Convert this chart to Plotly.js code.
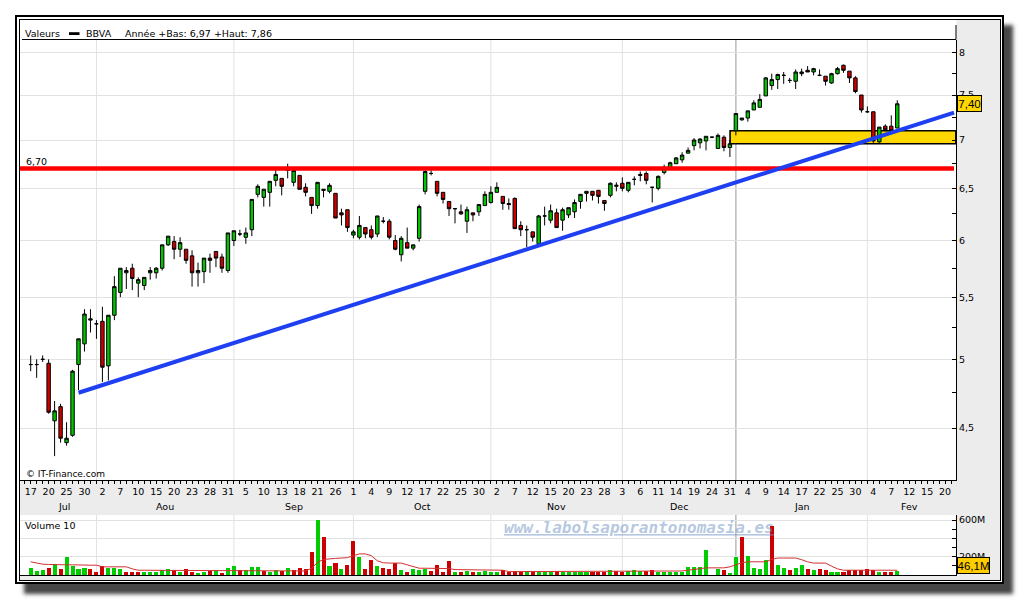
<!DOCTYPE html>
<html><head><meta charset="utf-8">
<script src="https://cdn.plot.ly/plotly-3.0.1.min.js"></script>
<style>
html,body{margin:0;padding:0;background:#fff;}
#wrap{position:relative;width:1020px;height:600px;overflow:hidden;background:#fff;}
#outer{position:absolute;left:15px;top:15px;width:989px;height:569px;box-sizing:border-box;border:2px solid #000;background:#fff;box-shadow:9px 10px 4px rgba(50,50,50,0.9);}
#inner{position:absolute;left:19px;top:19px;width:982px;height:562px;box-sizing:border-box;border:1px solid #000;background:#fff;}
#chart{position:absolute;left:0;top:0;width:1020px;height:600px;}
</style></head><body>
<div id="wrap"><div id="outer"></div><div id="inner"></div><div id="chart"></div></div>
<script>
// ---------- DATA ----------
const ticker = "BBVA";
const tradingDays = [
"2012-07-17","2012-07-18","2012-07-19","2012-07-20","2012-07-23","2012-07-24","2012-07-25","2012-07-26","2012-07-27","2012-07-30","2012-07-31",
"2012-08-01","2012-08-02","2012-08-03","2012-08-06","2012-08-07","2012-08-08","2012-08-09","2012-08-10","2012-08-13","2012-08-14","2012-08-15","2012-08-16","2012-08-17","2012-08-20","2012-08-21","2012-08-22","2012-08-23","2012-08-24","2012-08-27","2012-08-28","2012-08-29","2012-08-30","2012-08-31",
"2012-09-03","2012-09-04","2012-09-05","2012-09-06","2012-09-07","2012-09-10","2012-09-11","2012-09-12","2012-09-13","2012-09-14","2012-09-17","2012-09-18","2012-09-19","2012-09-20","2012-09-21","2012-09-24","2012-09-25","2012-09-26","2012-09-27","2012-09-28",
"2012-10-01","2012-10-02","2012-10-03","2012-10-04","2012-10-05","2012-10-08","2012-10-09","2012-10-10","2012-10-11","2012-10-12","2012-10-15","2012-10-16","2012-10-17","2012-10-18","2012-10-19","2012-10-22","2012-10-23","2012-10-24","2012-10-25","2012-10-26","2012-10-29","2012-10-30","2012-10-31",
"2012-11-01","2012-11-02","2012-11-05","2012-11-06","2012-11-07","2012-11-08","2012-11-09","2012-11-12","2012-11-13","2012-11-14","2012-11-15","2012-11-16","2012-11-19","2012-11-20","2012-11-21","2012-11-22","2012-11-23","2012-11-26","2012-11-27","2012-11-28","2012-11-29","2012-11-30",
"2012-12-03","2012-12-04","2012-12-05","2012-12-06","2012-12-07","2012-12-10","2012-12-11","2012-12-12","2012-12-13","2012-12-14","2012-12-17","2012-12-18","2012-12-19","2012-12-20","2012-12-21","2012-12-24","2012-12-27","2012-12-28","2012-12-31",
"2013-01-02","2013-01-03","2013-01-04","2013-01-07","2013-01-08","2013-01-09","2013-01-10","2013-01-11","2013-01-14","2013-01-15","2013-01-16","2013-01-17","2013-01-18","2013-01-21","2013-01-22","2013-01-23","2013-01-24","2013-01-25","2013-01-28","2013-01-29","2013-01-30","2013-01-31",
"2013-02-01","2013-02-04","2013-02-05","2013-02-06","2013-02-07","2013-02-08","2013-02-11","2013-02-12","2013-02-13","2013-02-14","2013-02-15","2013-02-18","2013-02-19","2013-02-20"
];
const monthNames = ["Jan","Fev","Mar","Avr","Mai","Jun","Jul","Aou","Sep","Oct","Nov","Dec"];

const open = [
4.96,4.96,5.00,4.97,4.55,4.65,4.40,4.45,4.96,5.12,
5.31,5.28,5.30,4.95,5.35,5.54,5.71,5.75,5.62,5.60,
5.71,5.71,5.75,5.96,5.99,5.92,5.92,5.86,5.71,5.72,
5.84,5.90,5.85,5.73,6.00,6.06,6.03,6.10,6.44,6.41,
6.46,6.58,6.60,6.69,6.56,6.63,6.51,6.41,6.33,6.49,
6.47,6.45,6.26,6.29,6.05,6.03,6.12,6.10,6.06,6.18,
6.18,6.00,5.87,5.98,5.93,6.02,6.47,6.65,6.57,6.46,
6.37,6.30,6.27,6.18,6.26,6.27,6.33,6.36,6.46,6.42,
6.35,6.40,6.14,6.10,6.08,5.97,6.23,6.19,6.26,6.19,
6.24,6.27,6.37,6.45,6.47,6.48,6.38,6.43,6.52,6.55,
6.48,6.59,6.64,6.65,6.51,6.50,6.66,6.71,6.75,6.79,
6.86,6.94,6.97,6.99,7.03,6.91,7.03,6.92,7.10,7.22,
7.24,7.33,7.36,7.49,7.61,7.68,7.73,7.67,7.66,7.75,
7.79,7.77,7.73,7.72,7.64,7.75,7.85,7.78,7.70,7.50,
7.31,7.31,6.98,7.15,7.15,7.13];
const high = [
5.03,5.00,5.03,5.00,4.69,4.67,4.54,4.92,5.16,5.40,
5.40,5.31,5.42,5.35,5.68,5.75,5.76,5.79,5.67,5.67,
5.76,5.76,5.96,6.04,6.04,6.03,5.92,5.91,5.80,5.84,
5.88,5.90,5.88,6.07,6.09,6.10,6.12,6.39,6.54,6.49,
6.57,6.69,6.60,6.75,6.68,6.63,6.55,6.41,6.56,6.49,
6.55,6.45,6.30,6.29,6.10,6.23,6.12,6.14,6.23,6.22,
6.20,6.05,6.04,6.12,5.96,6.34,6.68,6.70,6.57,6.46,
6.37,6.30,6.34,6.32,6.26,6.34,6.47,6.52,6.56,6.42,
6.40,6.41,6.18,6.14,6.08,6.24,6.32,6.34,6.30,6.31,
6.31,6.39,6.44,6.47,6.47,6.48,6.38,6.56,6.56,6.61,
6.56,6.62,6.67,6.67,6.51,6.63,6.74,6.77,6.82,6.87,
6.92,7.02,7.02,7.04,7.04,7.07,7.05,7.00,7.29,7.24,
7.32,7.44,7.51,7.71,7.75,7.75,7.77,7.70,7.80,7.81,
7.84,7.82,7.80,7.72,7.76,7.83,7.86,7.78,7.72,7.50,
7.37,7.31,7.14,7.17,7.27,7.44];
const low = [
4.91,4.86,4.98,4.60,4.31,4.40,4.38,4.44,4.77,5.06,
5.21,5.16,4.83,4.84,5.31,5.50,5.57,5.56,5.50,5.56,
5.65,5.66,5.73,5.95,5.83,5.85,5.79,5.59,5.59,5.62,
5.71,5.76,5.71,5.71,5.95,6.04,5.97,6.04,6.41,6.32,
6.32,6.52,6.43,6.60,6.52,6.49,6.42,6.25,6.30,6.41,
6.45,6.21,6.14,6.08,6.02,6.01,6.02,6.01,6.03,6.16,
6.01,5.91,5.81,5.93,5.91,5.99,6.44,6.63,6.42,6.35,
6.23,6.16,6.24,6.07,6.18,6.23,6.33,6.35,6.46,6.29,
6.29,6.11,6.04,5.94,5.99,5.97,6.14,6.16,6.12,6.09,
6.21,6.21,6.30,6.37,6.38,6.35,6.28,6.41,6.47,6.47,
6.46,6.53,6.57,6.54,6.36,6.48,6.64,6.70,6.75,6.76,
6.86,6.89,6.91,6.89,7.02,6.91,6.88,6.82,7.05,7.21,
7.20,7.33,7.36,7.49,7.56,7.57,7.63,7.64,7.57,7.72,
7.77,7.73,7.72,7.61,7.63,7.74,7.76,7.64,7.52,7.30,
7.30,6.97,6.97,7.11,7.10,7.13];
const close = [
4.96,4.96,5.00,4.61,4.62,4.43,4.43,4.91,5.16,5.36,
5.32,5.28,4.94,5.35,5.59,5.75,5.73,5.66,5.65,5.67,
5.73,5.75,5.96,6.04,5.92,5.98,5.82,5.71,5.73,5.84,
5.82,5.84,5.75,6.07,6.09,6.06,6.07,6.39,6.52,6.49,
6.57,6.64,6.52,6.68,6.68,6.49,6.46,6.33,6.56,6.48,
6.53,6.21,6.24,6.12,6.08,6.14,6.06,6.03,6.23,6.18,
6.03,5.92,6.02,5.93,5.96,6.32,6.67,6.65,6.45,6.39,
6.30,6.30,6.25,6.29,6.24,6.34,6.44,6.46,6.51,6.35,
6.34,6.11,6.10,6.10,6.03,6.23,6.23,6.28,6.12,6.29,
6.31,6.36,6.44,6.47,6.43,6.42,6.35,6.55,6.53,6.50,
6.56,6.59,6.63,6.58,6.51,6.62,6.71,6.76,6.81,6.84,
6.89,7.00,7.01,7.04,7.03,7.05,6.92,6.96,7.29,7.24,
7.32,7.41,7.45,7.70,7.68,7.74,7.73,7.67,7.77,7.77,
7.77,7.81,7.73,7.66,7.75,7.81,7.79,7.70,7.54,7.33,
7.31,6.99,7.14,7.11,7.10,7.40];
// volume, millions of shares
const volume = [
78,48,55,78,122,67,200,96,70,81,
67,33,100,81,81,70,33,33,33,33,
33,33,55,67,55,37,67,37,26,37,
44,55,22,78,100,52,52,89,89,44,
33,59,44,78,55,78,67,255,600,411,
100,133,67,111,366,200,67,167,100,78,
67,126,55,33,67,55,70,44,111,33,
155,33,33,44,33,33,44,33,33,55,
33,44,30,44,30,30,30,30,44,30,
30,30,30,30,30,30,30,59,44,30,
44,59,44,44,55,37,37,37,37,37,
89,89,89,278,3,70,55,22,200,411,
211,78,67,167,533,111,78,55,78,111,
67,55,67,55,33,33,33,55,55,55,
67,55,33,33,33,46.1];
// volume bar direction: g = up, r = down
const volumeDir = "gggrgrgggg"+"rrrgggrrrg"+"ggggrgrrgg"+"rgrggrgggr"+"ggrgrrrrgr"+
                  "grgrrgrrgr"+"rrgrgggrrr"+"rgrgrggggr"+"rrrgrgggrg"+"ggggrrrgrr"+
                  "gggrrggggg"+"ggggggrggr"+"ggggrggrgg"+"rgrrggrrrr"+"rrgrrg";
// 10-day volume average, millions
const volumeMA10 = [
144,130,118,115,111,111,111,111,107,107,
107,107,89,89,89,89,89,67,52,52,
50,50,50,50,50,50,48,44,44,44,
44,44,44,44,44,44,44,44,44,44,
44,44,44,44,44,44,44,74,137,170,
178,181,185,189,211,230,230,211,155,133,
130,130,130,111,89,74,74,74,70,70,
70,59,59,59,59,52,52,52,52,52,
37,37,37,37,37,37,37,37,37,37,
37,37,37,37,37,37,37,37,37,37,
37,37,37,37,37,37,37,37,37,44,
52,63,74,78,78,78,78,89,111,133,
144,144,144,144,170,185,185,185,185,167,
144,130,130,130,96,67,52,52,52,52,
52,52,52,52,52,52];
const priceTicks = [4.5,5,5.5,6,6.5,7,7.5,8];
const volumeTicks = [200,400,600];
const volumeTickText = ["200M","","600M"];
const supportLevel = 6.70;
const trendIdx = [8, 154.5];
const trendPrice = [4.75, 7.30];
const zonePrice = [6.96, 7.10];
const zoneStartIdx = 117;

// ---------- BUILD ----------
const idx = close.map((_, i) => i);
const xRange = [-1.79, 154.83];
const fmt = (v, d) => v.toFixed(d).replace('.', ',');
const px = x => x / 1020, py = y => 1 - y / 600;

const tickIdx = tradingDays.map((_, i) => i).filter(i => i % 3 === 0);
const tickText = tickIdx.map(i => String(+tradingDays[i].slice(8)));

const months = [];
tradingDays.forEach((d, i) => {
  const k = d.slice(0, 7);
  if (!months.length || months[months.length - 1].key !== k) months.push({key: k, first: i, last: i});
  else months[months.length - 1].last = i;
});

// year stats
const yr = tradingDays[close.length - 1].slice(0, 4);
let yLow = Infinity, yHigh = -Infinity;
close.forEach((_, i) => { if (tradingDays[i].slice(0, 4) === yr) { yLow = Math.min(yLow, low[i]); yHigh = Math.max(yHigh, high[i]); } });

const GREEN = '#00c400', RED = '#cc0000';

const traces = [
  { type: 'bar', x: [(zoneStartIdx + xRange[1]) / 2], y: [zonePrice[1] - zonePrice[0]], base: [zonePrice[0]],
    width: [xRange[1] - zoneStartIdx - 0.05], xaxis: 'x', yaxis: 'y',
    marker: { color: '#ffd700', line: { color: '#000', width: 1.6 } }, hoverinfo: 'skip' },
  { type: 'candlestick', x: idx, open: open, high: high, low: low, close: close, xaxis: 'x', yaxis: 'y',
    increasing: { line: { color: '#000', width: 1 }, fillcolor: GREEN },
    decreasing: { line: { color: '#000', width: 1 }, fillcolor: RED },
    whiskerwidth: 0, hoverinfo: 'skip' },
  { type: 'scatter', mode: 'lines', x: [xRange[0], 154.5], y: [supportLevel, supportLevel], xaxis: 'x', yaxis: 'y',
    line: { color: '#ff0000', width: 4.5 }, hoverinfo: 'skip' },
  { type: 'scatter', mode: 'lines', x: trendIdx, y: trendPrice, xaxis: 'x', yaxis: 'y',
    line: { color: '#1f3ff2', width: 4 }, hoverinfo: 'skip' },
  { type: 'bar', x: idx, y: volume, xaxis: 'x2', yaxis: 'y2', width: 0.68,
    marker: { color: idx.map(i => volumeDir[i] === 'g' ? '#00cc00' : '#cc0000'), line: { width: 0 } }, hoverinfo: 'skip' },
  { type: 'scatter', mode: 'lines', x: idx, y: volumeMA10, xaxis: 'x2', yaxis: 'y2',
    line: { color: '#d03030', width: 1 }, hoverinfo: 'skip' }
];

const shapes = [
  { type: 'rect', xref: 'paper', yref: 'paper', x0: px(956.5), x1: px(1000), y0: py(580), y1: py(20), fillcolor: '#ececec', line: { width: 0 }, layer: 'below' },
  { type: 'rect', xref: 'paper', yref: 'paper', x0: px(20), x1: px(1000), y0: py(515), y1: py(480.5), fillcolor: '#ececec', line: { width: 0 }, layer: 'below' },
  { type: 'rect', xref: 'paper', yref: 'paper', x0: px(20), x1: px(1000), y0: py(580), y1: py(575.5), fillcolor: '#ececec', line: { width: 0 }, layer: 'below' },
  { type: 'line', xref: 'paper', yref: 'paper', x0: px(22), x1: px(956), y0: py(39.5), y1: py(39.5), line: { color: '#000', width: 1 } },
  { type: 'line', xref: 'paper', yref: 'paper', x0: px(956), x1: px(956), y0: py(25), y1: py(39.5), line: { color: '#000', width: 1 } },
  { type: 'rect', xref: 'paper', yref: 'paper', x0: px(69), x1: px(79.5), y0: py(35), y1: py(32.2), fillcolor: '#000', line: { width: 0 } }
];
months.slice(1).forEach(m => {
  const yearStart = m.key.slice(5) === '01';
  const col = yearStart ? '#a8a8a8' : '#e2e2e2';
  ['y domain', 'y2 domain'].forEach(yr => shapes.push({
    type: 'line', xref: 'x', yref: yr, x0: m.first, x1: m.first, y0: 0, y1: 1,
    line: { color: col, width: yearStart ? 1.2 : 1 }, layer: 'below'
  }));
});

const F = 'DejaVu Sans, Verdana, sans-serif';
const annotations = [
  { xref: 'paper', yref: 'paper', x: px(23), y: py(33.7), xanchor: 'left', yanchor: 'middle', text: 'Valeurs', showarrow: false, font: { family: F, size: 9.5 } },
  { xref: 'paper', yref: 'paper', x: px(83.5), y: py(33.7), xanchor: 'left', yanchor: 'middle', text: ticker, showarrow: false, font: { family: F, size: 9.5 } },
  { xref: 'paper', yref: 'paper', x: px(123), y: py(33.7), xanchor: 'left', yanchor: 'middle',
    text: 'Année +Bas: ' + fmt(yLow, 2) + ' +Haut: ' + fmt(yHigh, 2), showarrow: false, font: { family: F, size: 9.5 } },
  { xref: 'paper', yref: 'y', x: px(23.5), y: Math.log10(supportLevel), yshift: 7, xanchor: 'left', yanchor: 'middle',
    text: fmt(supportLevel, 2), showarrow: false, font: { family: F, size: 9.5 } },
  { xref: 'paper', yref: 'paper', x: px(24), y: py(474), xanchor: 'left', yanchor: 'middle', text: '© IT-Finance.com', showarrow: false, font: { family: F, size: 9 } },
  { xref: 'paper', yref: 'paper', x: px(23), y: py(525.3), xanchor: 'left', yanchor: 'middle', text: 'Volume 10', showarrow: false, font: { family: F, size: 9.5 } },
  { xref: 'paper', yref: 'paper', x: px(502), y: py(527.5), xanchor: 'left', yanchor: 'middle', text: 'www.labolsaporantonomasia.es', showarrow: false,
    font: { family: 'DejaVu Sans Mono, monospace', size: 16, style: 'italic', weight: 'bold', color: 'rgba(120,152,200,0.55)', lineposition: 'under' } },
  { xref: 'paper', yref: 'y', x: px(956.5), y: Math.log10(close[close.length - 1]), xanchor: 'left', yanchor: 'middle',
    text: fmt(close[close.length - 1], 2), showarrow: false, width: 23, height: 15, borderpad: 0, borderwidth: 1,
    bordercolor: '#000', bgcolor: '#ffd700', font: { family: 'Liberation Sans, Arial, sans-serif', size: 11.5 } },
  { xref: 'paper', yref: 'paper', x: px(956.5), y: py(565), xanchor: 'left', yanchor: 'middle',
    text: fmt(volume[volume.length - 1], 1) + 'M', showarrow: false, width: 31, height: 15, borderpad: 0, borderwidth: 1,
    bordercolor: '#000', bgcolor: '#ffcc00', font: { family: 'Liberation Sans, Arial, sans-serif', size: 11.5 } }
];
months.forEach(m => {
  const mi = +m.key.slice(5) - 1;
  annotations.push({ xref: 'x', yref: 'paper', x: (m.first + m.last) / 2 + 0.5, y: py(506.5), xanchor: 'center', yanchor: 'middle',
    text: monthNames[mi], showarrow: false, font: { family: F, size: 9.5 } });
});

const priceMinor = priceTicks.slice(0, -1).map((v, k) => (v + priceTicks[k + 1]) / 2);

const layout = {
  width: 1020, height: 600, margin: { l: 0, r: 0, t: 0, b: 0, pad: 0 },
  paper_bgcolor: 'rgba(0,0,0,0)', plot_bgcolor: 'rgba(0,0,0,0)',
  font: { family: F, size: 9.5, color: '#000' },
  showlegend: false, hovermode: false, dragmode: false, boxgap: 0.18, bargap: 0,
  xaxis: { domain: [px(20), px(956)], range: xRange, anchor: 'y', automargin: false,
    tickmode: 'array', tickvals: tickIdx, ticktext: tickText, ticks: 'outside', ticklen: 3, tickwidth: 1, tickcolor: '#000',
    minor: { tickmode: 'linear', tick0: 0, dtick: 1, ticks: 'outside', ticklen: 3, tickwidth: 1, tickcolor: '#000', showgrid: false },
    showline: true, linecolor: '#000', linewidth: 1, showgrid: false, zeroline: false, rangeslider: { visible: false },
    tickfont: { family: F, size: 9.5 }, fixedrange: true },
  yaxis: { domain: [py(480), py(39.5)], type: 'log', range: [0.61857, 0.91206], side: 'right', anchor: 'x', automargin: false,
    tickmode: 'array', tickvals: priceTicks, ticktext: priceTicks.map(v => String(v).replace('.', ',')),
    ticks: 'inside', ticklen: 4, tickwidth: 1, tickcolor: '#000',
    minor: { tickmode: 'array', tickvals: priceMinor, ticks: 'inside', ticklen: 4, tickwidth: 1, tickcolor: '#000', showgrid: false },
    showline: true, linecolor: '#000', linewidth: 1, showgrid: true, gridcolor: '#e2e2e2', gridwidth: 1, zeroline: false,
    tickfont: { family: F, size: 9.5 }, fixedrange: true },
  xaxis2: { domain: [px(20), px(956)], range: xRange, anchor: 'y2', automargin: false, showticklabels: false, ticks: '',
    showline: true, linecolor: '#000', linewidth: 1, showgrid: false, zeroline: false, rangeslider: { visible: false }, fixedrange: true },
  yaxis2: { domain: [py(575), py(515)], range: [0, 654.5], side: 'right', anchor: 'x2', automargin: false,
    tickmode: 'array', tickvals: volumeTicks, ticktext: volumeTickText, ticks: 'inside', ticklen: 4, tickwidth: 1, tickcolor: '#000',
    minor: { tickmode: 'linear', tick0: 0, dtick: 100, ticks: 'inside', ticklen: 4, tickwidth: 1, tickcolor: '#000', showgrid: false },
    showline: true, linecolor: '#000', linewidth: 1, showgrid: true, gridcolor: '#e2e2e2', zeroline: false,
    tickfont: { family: F, size: 9.5 }, fixedrange: true },
  shapes: shapes, annotations: annotations
};

Plotly.newPlot('chart', traces, layout, { staticPlot: true, displayModeBar: false });
</script>
</body></html>
